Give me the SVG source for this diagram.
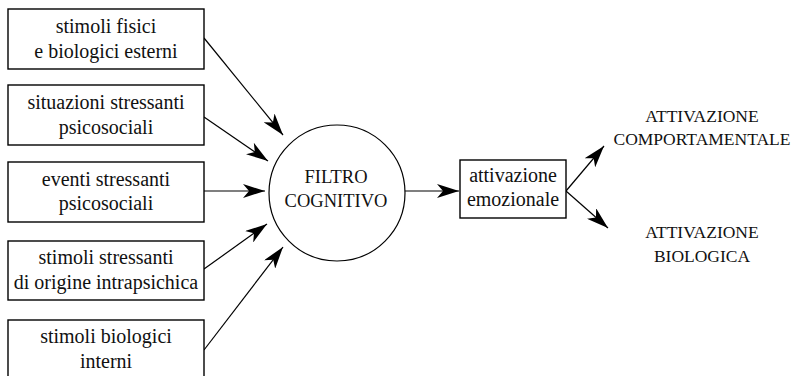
<svg xmlns="http://www.w3.org/2000/svg" width="796" height="376" viewBox="0 0 796 376">
<style>
.box{fill:#fff;stroke:#000;stroke-width:1.4}
.t{font-family:"Liberation Serif",serif;font-size:20px;fill:#111;text-anchor:middle}
.c{font-family:"Liberation Serif",serif;font-size:18.5px;fill:#111;text-anchor:middle}
.r{font-family:"Liberation Serif",serif;font-size:17.5px;fill:#111;text-anchor:middle}
.ln{stroke:#000;stroke-width:1.2;fill:none;marker-end:url(#ah)}
</style>
<defs>
<marker id="ah" markerUnits="userSpaceOnUse" markerWidth="22" markerHeight="14" viewBox="0 0 22 14" refX="22" refY="7" orient="auto">
<path d="M0,0 L22,7 L0,14 L6,7 Z" fill="#000"/>
</marker>
</defs>
<rect width="796" height="376" fill="#fff"/>
<g id="connectors">
<line class="ln" x1="204" y1="38" x2="283" y2="135"/>
<line class="ln" x1="204" y1="117" x2="268" y2="161"/>
<line class="ln" x1="204" y1="191" x2="265" y2="191"/>
<line class="ln" x1="204" y1="269" x2="267" y2="224"/>
<line class="ln" x1="204" y1="350" x2="283" y2="247"/>
<line class="ln" x1="405" y1="191" x2="459" y2="191"/>
<line class="ln" x1="566" y1="191" x2="604" y2="146"/>
<line class="ln" x1="566" y1="191" x2="608" y2="228"/>
</g>
<g id="n1"><rect class="box" x="8" y="9" width="196" height="60"/><text class="t" x="106" y="33">stimoli fisici</text><text class="t" x="106" y="58">e biologici esterni</text></g>
<g id="n2"><rect class="box" x="8" y="85" width="196" height="60"/><text class="t" x="106" y="109">situazioni stressanti</text><text class="t" x="106" y="134">psicosociali</text></g>
<g id="n3"><rect class="box" x="8" y="162" width="196" height="60"/><text class="t" x="106" y="186">eventi stressanti</text><text class="t" x="106" y="210">psicosociali</text></g>
<g id="n4"><rect class="box" x="8" y="241" width="196" height="59"/><text class="t" x="106" y="264">stimoli stressanti</text><text class="t" x="106" y="289">di origine intrapsichica</text></g>
<g id="n5"><rect class="box" x="8" y="320" width="196" height="60"/><text class="t" x="106" y="343">stimoli biologici</text><text class="t" x="106" y="368">interni</text></g>
<g id="filtro"><circle cx="337" cy="193" r="68" fill="#fff" stroke="#000" stroke-width="1.2"/><text class="c" x="336" y="183">FILTRO</text><text class="c" x="336" y="207">COGNITIVO</text></g>
<g id="emo"><rect class="box" x="460" y="160" width="106" height="58"/><text class="t" x="513" y="182">attivazione</text><text class="t" x="513" y="206">emozionale</text></g>
<g id="comp"><text class="r" x="702" y="122">ATTIVAZIONE</text><text class="r" x="702" y="145">COMPORTAMENTALE</text></g>
<g id="bio"><text class="r" x="702" y="238">ATTIVAZIONE</text><text class="r" x="702" y="262">BIOLOGICA</text></g>
</svg>
